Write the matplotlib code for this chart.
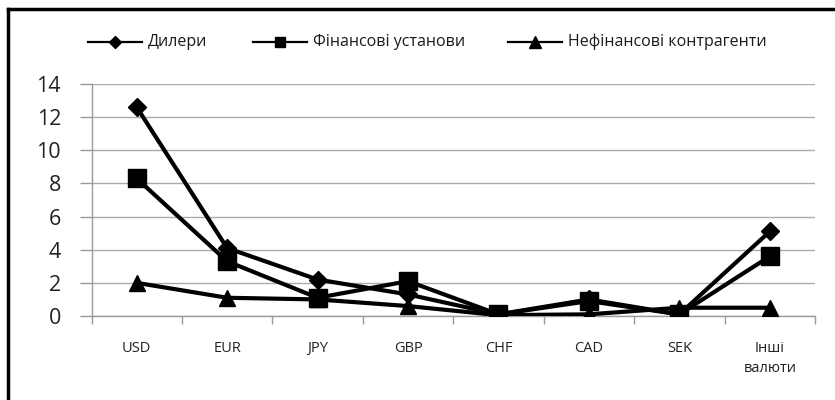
import matplotlib
matplotlib.use("Agg")
import matplotlib.pyplot as plt
from matplotlib.lines import Line2D

plt.rcParams['font.family'] = ['Open Sans', 'DejaVu Sans']

categories = ["USD", "EUR", "JPY", "GBP", "CHF", "CAD", "SEK", "Інші\nвалюти"]
dealers = [12.6, 4.1, 2.2, 1.3, 0.1, 1.0, 0.1, 5.1]
financial = [8.3, 3.3, 1.1, 2.1, 0.1, 0.9, 0.1, 3.6]
nonfinancial = [2.0, 1.1, 1.0, 0.6, 0.05, 0.1, 0.5, 0.5]
series_names = ["Дилери", "Фінансові установи", "Нефінансові контрагенти"]
yticks = [0, 2, 4, 6, 8, 10, 12, 14]

W, H = 835, 400
fig = plt.figure(figsize=(W / 100, H / 100), dpi=100)
ax = fig.add_axes([91.5 / W, (H - 316) / H, (815 - 91.5) / W, (316 - 84) / H])

x = list(range(len(categories)))
lw = 3.0
markers = ['D', 's', '^']
msizes = [9, 13, 12]
for vals, m, ms, name in zip([dealers, financial, nonfinancial], markers, msizes, series_names):
    ax.plot(x, vals, color='black', lw=lw, marker=m, markersize=ms, label=name, zorder=3)

ax.set_xlim(-0.5, len(categories) - 0.5)
ax.set_ylim(0, 14)
ax.set_yticks(yticks)
ax.set_yticklabels([str(v) for v in yticks], fontsize=15.5, color='#222222')
ax.set_xticks(x)
ax.set_xticklabels(categories, fontsize=10.5, color='#222222', linespacing=1.45)
ax.set_xticks([i - 0.5 for i in range(len(categories) + 1)], minor=True)
ax.tick_params(axis='x', which='major', length=0, pad=18)
ax.tick_params(axis='x', which='minor', length=6, color='#999999', width=1)
ax.tick_params(axis='y', length=9, color='#999999', width=1, pad=13)
ax.yaxis.grid(True, color='#aaaaaa', lw=1)
ax.set_axisbelow(True)
for s in ['top', 'right']:
    ax.spines[s].set_visible(False)
for s in ['left', 'bottom']:
    ax.spines[s].set_color('#999999')
    ax.spines[s].set_linewidth(1)

# legend drawn manually in figure pixel positions
leg_x = [88, 253, 508]
leg_y = 1 - 41.5 / H
leg_ms = [6.5, 7.5, 8.5]
for lx, m, ms, name in zip(leg_x, markers, leg_ms, series_names):
    fig.add_artist(Line2D([lx / W, (lx + 54) / W], [leg_y, leg_y], color='black', lw=1.6,
                          transform=fig.transFigure))
    fig.add_artist(Line2D([(lx + 27) / W], [leg_y], color='black', marker=m, markersize=ms,
                          lw=0, transform=fig.transFigure))
    fig.text((lx + 60) / W, leg_y, name, fontsize=11.5, va='center', ha='left', color='#1a1a1a')

# outer frame (cut off at right and bottom)
fig.add_artist(Line2D([7.5 / W, 7.5 / W], [0, 1 - 8.5 / H], color='black', lw=2.5,
                      transform=fig.transFigure, solid_capstyle='projecting'))
fig.add_artist(Line2D([7.5 / W, 1], [1 - 8.5 / H, 1 - 8.5 / H], color='black', lw=2.5,
                      transform=fig.transFigure, solid_capstyle='projecting'))

fig.savefig("out.png", dpi=100)
